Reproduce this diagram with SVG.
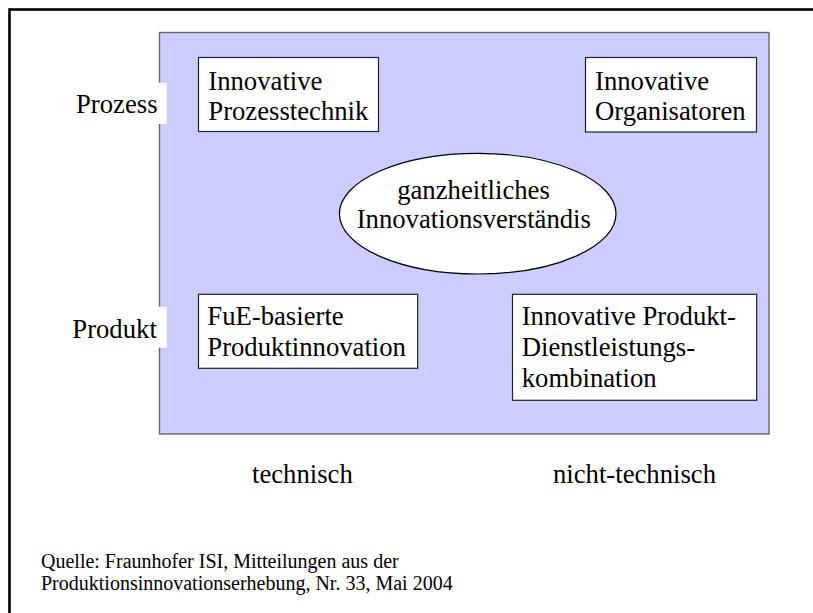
<svg xmlns="http://www.w3.org/2000/svg" width="813" height="613" viewBox="0 0 813 613">
<style>
.t{font-size:26.7px}
.s{font-size:20px}
.box{fill:#fff;stroke:#222;stroke-width:1.2}
</style>
<rect x="0" y="0" width="813" height="613" fill="#fff"/>
<rect id="frame" x="9.5" y="9.5" width="900" height="700" fill="none" stroke="#000" stroke-width="2.6"/>
<g id="field">
<rect x="159.5" y="32.5" width="609.5" height="401.5" fill="#CCCCFF" stroke="#666" stroke-width="1.4"/>
</g>
<g font-family="Liberation Serif, DejaVu Serif, serif" fill="#000">
<g id="label-prozess">
<rect x="70" y="82.7" width="96.7" height="41.3" fill="#fff"/>
<text class="t" x="76" y="113.3">Prozess</text>
</g>
<g id="label-produkt">
<rect x="66" y="306.7" width="100.7" height="41" fill="#fff"/>
<text class="t" x="72.3" y="337.7">Produkt</text>
</g>
<g id="node-prozesstechnik">
<rect class="box" x="198.5" y="57.5" width="180" height="74"/>
<text class="t" x="208.3" y="89.5">Innovative</text>
<text class="t" x="208.3" y="120">Prozesstechnik</text>
</g>
<g id="node-organisatoren">
<rect class="box" x="585.5" y="57.5" width="171" height="74.5"/>
<text class="t" x="595" y="89.5">Innovative</text>
<text class="t" x="595" y="120">Organisatoren</text>
</g>
<g id="node-ganzheitlich">
<ellipse cx="477.7" cy="213.7" rx="138.3" ry="60.3" fill="#fff" stroke="#000" stroke-width="1.2"/>
<text class="t" x="473.5" y="199.3" text-anchor="middle">ganzheitliches</text>
<text class="t" x="473.8" y="228.3" text-anchor="middle">Innovationsverständis</text>
</g>
<g id="node-fue">
<rect class="box" x="198.5" y="294.3" width="219.2" height="74"/>
<text class="t" x="207.3" y="324.7">FuE-basierte</text>
<text class="t" x="207.3" y="356">Produktinnovation</text>
</g>
<g id="node-kombination">
<rect class="box" x="512.5" y="294.3" width="244.2" height="106"/>
<text class="t" x="521.7" y="324.5">Innovative Produkt-</text>
<text class="t" x="521.7" y="355.7">Dienstleistungs-</text>
<text class="t" x="521.7" y="386.7">kombination</text>
</g>
<g id="connectors"></g>
<g id="axis-labels">
<text class="t" x="252" y="483.3">technisch</text>
<text class="t" x="553" y="483.3">nicht-technisch</text>
</g>
<g id="source">
<text class="s" x="41" y="567.5">Quelle: Fraunhofer ISI, Mitteilungen aus der</text>
<text class="s" x="41" y="589.5">Produktionsinnovationserhebung, Nr. 33, Mai 2004</text>
</g>
</g>
</svg>
